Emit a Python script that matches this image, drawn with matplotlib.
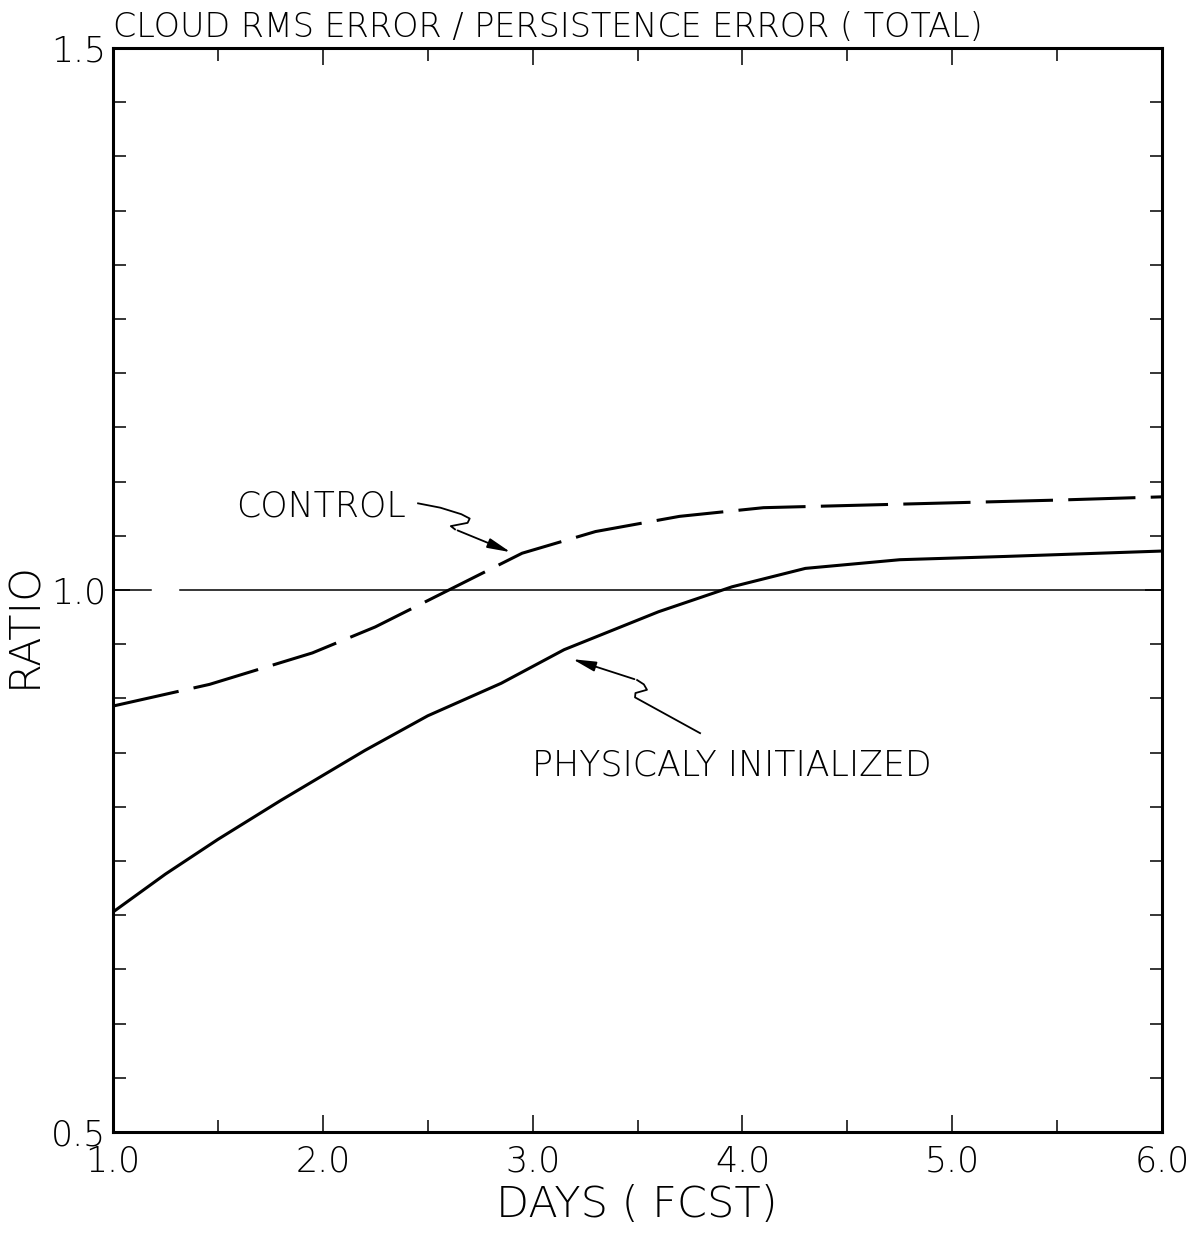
import matplotlib.pyplot as plt

# Forecast day vs. ratio of cloud rms error to persistence error
control_days = [1.0, 1.46, 1.95, 2.25, 2.6, 2.95, 3.3, 3.7, 4.1, 4.5, 4.9, 5.5, 6.0]
control_ratio = [0.893, 0.913, 0.942, 0.966, 1.0, 1.034, 1.054, 1.068, 1.076, 1.078, 1.080, 1.083, 1.086]

physical_days = [1.0, 1.25, 1.5, 1.8, 2.2, 2.5, 2.85, 3.15, 3.6, 3.95, 4.3, 4.75, 5.25, 6.0]
physical_ratio = [0.703, 0.738, 0.770, 0.806, 0.852, 0.884, 0.914, 0.945, 0.980, 1.003, 1.020, 1.028, 1.031, 1.036]

x_major = [1.0, 2.0, 3.0, 4.0, 5.0, 6.0]
x_labels = ['1.0', '2.0', '3.0', '4.0', '5.0', '6.0']
x_minor = [1.5, 2.5, 3.5, 4.5, 5.5]
y_major = [0.5, 1.0, 1.5]
y_labels = ['0.5', '1.0', '1.5']
y_minor = [0.55, 0.6, 0.65, 0.7, 0.75, 0.8, 0.85, 0.9, 0.95,
           1.05, 1.1, 1.15, 1.2, 1.25, 1.3, 1.35, 1.4, 1.45]

# hand drawn leader lines (squiggle part, then arrow)
control_leader_x = [2.454, 2.56, 2.66, 2.70, 2.69, 2.61, 2.63]
control_leader_y = [1.080, 1.076, 1.070, 1.066, 1.062, 1.059, 1.056]
control_tip = (2.907, 1.034)
physical_leader_x = [3.798, 3.488, 3.49, 3.545, 3.53, 3.498]
physical_leader_y = [0.868, 0.901, 0.905, 0.908, 0.913, 0.917]
physical_tip = (3.178, 0.937)

plt.rcParams['font.family'] = ['DejaVu Sans']

fig = plt.figure(figsize=(11.91, 12.36), dpi=100)
ax = fig.add_axes([0.0949, 0.0841, 0.8808, 0.8770])

# reference line at ratio 1.0 (with the small break near the axis)
ax.plot([1.0, 1.18], [1.0, 1.0], color='black', lw=1.1)
ax.plot([1.32, 6.0], [1.0, 1.0], color='black', lw=1.1)

ax.plot(control_days, control_ratio, color='black', lw=2.2, dashes=(22, 5))
ax.plot(physical_days, physical_ratio, color='black', lw=2.2)

# annotations
ax.text(1.99, 1.077, 'CONTROL', fontsize=25, ha='center', va='center', fontweight='light')
ax.plot(control_leader_x, control_leader_y, color='black', lw=1.3)
ax.annotate('', xy=control_tip, xytext=(control_leader_x[-1], control_leader_y[-1]),
            arrowprops=dict(arrowstyle='-|>,head_length=1.4,head_width=0.3', color='black', lw=1.3))

ax.text(3.95, 0.838, 'PHYSICALY INITIALIZED', fontsize=25, ha='center', va='center', fontweight='light')
ax.plot(physical_leader_x, physical_leader_y, color='black', lw=1.3)
ax.annotate('', xy=physical_tip, xytext=(physical_leader_x[-1], physical_leader_y[-1]),
            arrowprops=dict(arrowstyle='-|>,head_length=1.4,head_width=0.3', color='black', lw=1.3))

ax.set_xlim(1.0, 6.0)
ax.set_ylim(0.5, 1.5)
ax.set_xticks(x_major)
ax.set_xticklabels(x_labels, fontweight='light')
ax.set_xticks(x_minor, minor=True)
ax.set_yticks(y_major)
ax.set_yticklabels(y_labels, fontweight='light')
ax.set_yticks(y_minor, minor=True)

ax.tick_params(which='both', direction='in', top=True, right=True, width=1.1)
ax.tick_params(which='major', length=12, labelsize=25)
ax.tick_params(axis='x', which='major', pad=9)
ax.tick_params(axis='y', which='major', pad=5)
ax.tick_params(which='minor', length=9)
for s in ax.spines.values():
    s.set_linewidth(2.2)

fig.text(113 / 1191, 1 - 37 / 1236, 'CLOUD RMS ERROR / PERSISTENCE ERROR ( TOTAL)',
         fontsize=24, ha='left', va='baseline', fontweight='light')
fig.text(24 / 1191, 1 - 624 / 1236, 'RATIO', fontsize=31, rotation=90,
         ha='center', va='center', fontweight='light')
fig.text(637 / 1191, 1 - 1205 / 1236, 'DAYS ( FCST)', fontsize=31,
         ha='center', va='center', fontweight='light')

fig.savefig('out.png', dpi=100)
